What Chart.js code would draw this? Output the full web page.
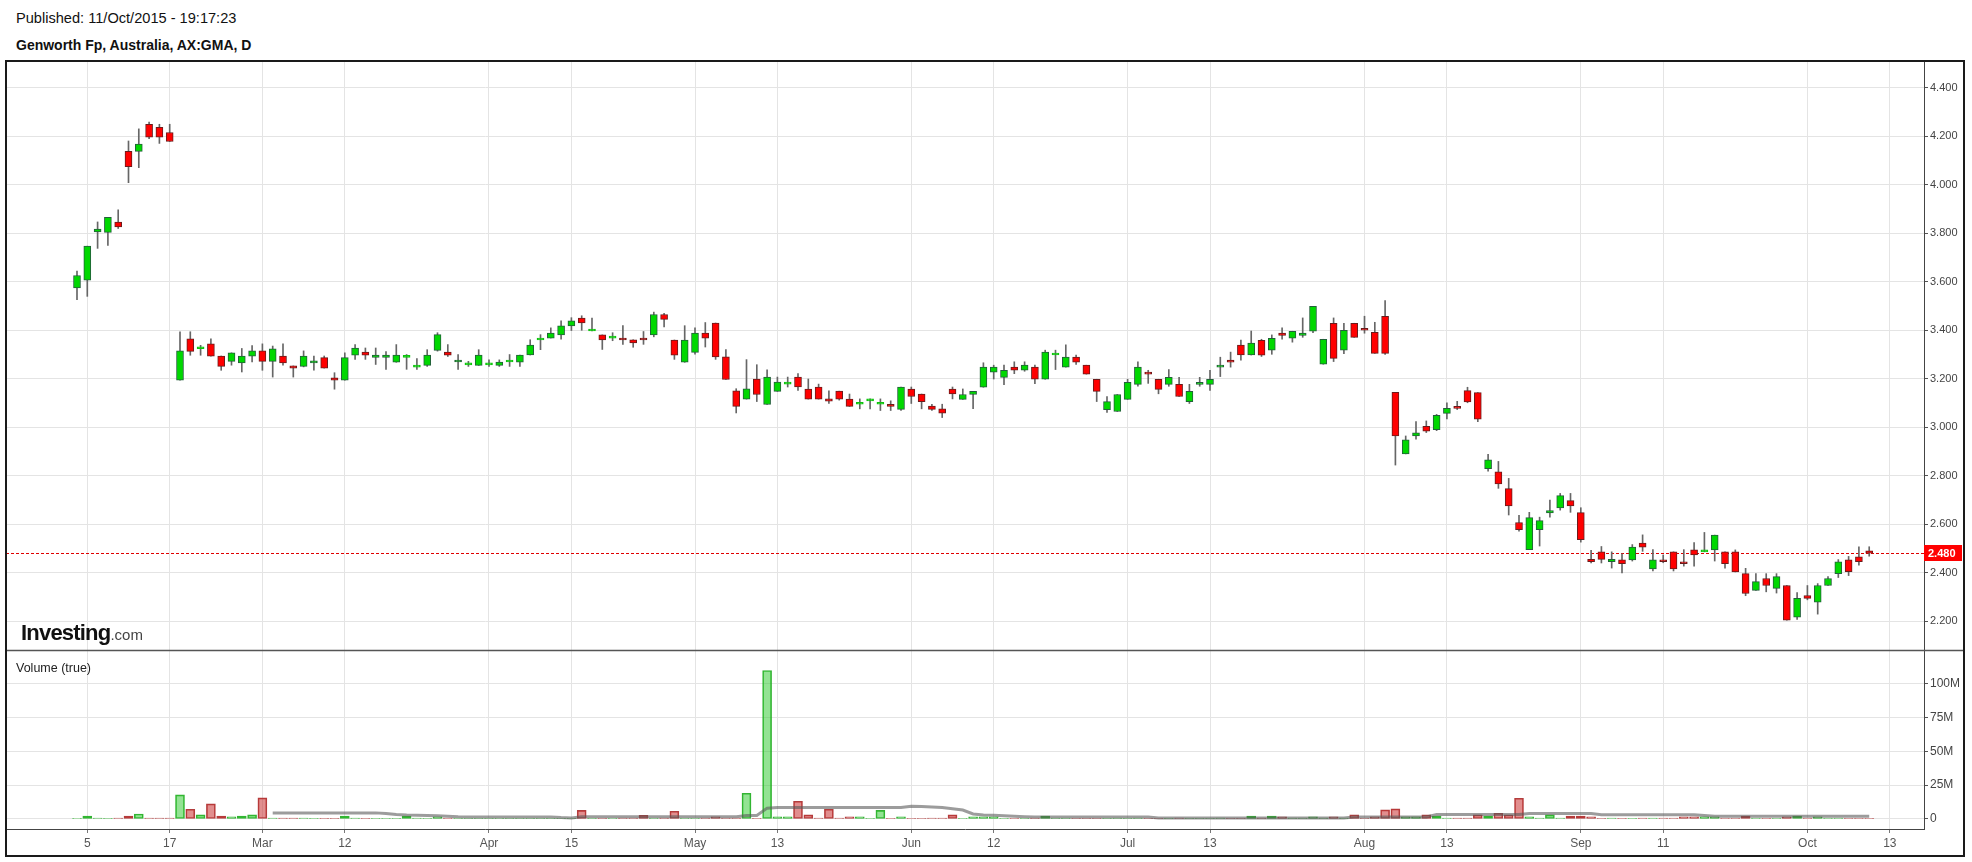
<!DOCTYPE html>
<html>
<head>
<meta charset="utf-8">
<script src="https://cdn.jsdelivr.net/npm/chart.js@4.4.1/dist/chart.umd.min.js"></script>
<style>
  body { margin: 0; background: #fff; width: 1972px; height: 862px; overflow: hidden; position: relative; font-family: "Liberation Sans", Arial, sans-serif; }
  #pub { position: absolute; left: 16px; top: 10px; font-size: 14.6px; color: #111; }
  #name { position: absolute; left: 16px; top: 37px; font-size: 14px; font-weight: bold; color: #111; }
  #frame { position: absolute; left: 5px; top: 60px; width: 1960px; height: 797px; border: 2px solid #1a1a1a; box-sizing: border-box; pointer-events: none; z-index: 3; }
  #c { position: absolute; left: 6px; top: 61px; }
  #logo { position: absolute; left: 21px; top: 620px; font-size: 22px; font-weight: bold; color: #111; letter-spacing: -0.8px; z-index: 2; }
  #logo span { font-size: 15px; font-weight: normal; color: #444; letter-spacing: 0; }
  #vol { position: absolute; left: 16px; top: 661px; font-size: 12.5px; color: #222; z-index: 2; }
</style>
</head>
<body>
<div id="pub">Published: 11/Oct/2015 - 19:17:23</div>
<div id="name">Genworth Fp, Australia, AX:GMA, D</div>
<canvas id="c" width="1958" height="795"></canvas>
<div id="frame"></div>
<div id="logo">Investing<span>.com</span></div>
<div id="vol">Volume (true)</div>
<script>
// trading days: weekdays from 4 Feb to 13 Oct 2015, ASX holidays skipped
var holidays = ['2015-04-03', '2015-04-06', '2015-06-08'];
var tickDates = ['2015-02-05', '2015-02-17', '2015-03-02', '2015-03-12', '2015-04-01', '2015-04-15', '2015-05-01', '2015-05-13',
  '2015-06-01', '2015-06-12', '2015-07-01', '2015-07-13', '2015-08-03', '2015-08-13', '2015-09-01', '2015-09-11', '2015-10-01', '2015-10-13'];
var tickText = ['5', '17', 'Mar', '12', 'Apr', '15', 'May', '13', 'Jun', '12', 'Jul', '13', 'Aug', '13', 'Sep', '11', 'Oct', '13'];
var priceTicks = [2.2, 2.4, 2.6, 2.8, 3.0, 3.2, 3.4, 3.6, 3.8, 4.0, 4.2, 4.4];
var volTicks = [0, 25, 50, 75, 100];

var opens = [3.575, 3.607, 3.806, 3.804, 3.846, 4.138, 4.138, 4.250, 4.237, 4.216,
  3.194, 3.365, 3.324, 3.344, 3.294, 3.272, 3.265, 3.293, 3.315, 3.272,
  3.294, 3.253, 3.251, 3.265, 3.287, 3.204, 3.194, 3.297, 3.310, 3.288,
  3.288, 3.268, 3.288, 3.248, 3.255, 3.317, 3.310, 3.269, 3.257, 3.255,
  3.257, 3.255, 3.269, 3.268, 3.298, 3.360, 3.368, 3.381, 3.418, 3.450,
  3.397, 3.381, 3.368, 3.368, 3.361, 3.368, 3.381, 3.465, 3.360, 3.268,
  3.309, 3.389, 3.430, 3.290, 3.150, 3.116, 3.199, 3.094, 3.148, 3.178,
  3.207, 3.157, 3.166, 3.117, 3.149, 3.116, 3.095, 3.109, 3.095, 3.095,
  3.074, 3.157, 3.137, 3.087, 3.076, 3.157, 3.115, 3.135, 3.165, 3.227,
  3.206, 3.248, 3.235, 3.248, 3.198, 3.298, 3.248, 3.289, 3.256, 3.198,
  3.073, 3.065, 3.115, 3.177, 3.227, 3.198, 3.177, 3.177, 3.106, 3.177,
  3.177, 3.248, 3.277, 3.339, 3.298, 3.359, 3.318, 3.388, 3.367, 3.379,
  3.396, 3.260, 3.429, 3.318, 3.429, 3.408, 3.392, 3.458, 3.144, 2.890,
  2.964, 3.004, 2.990, 3.057, 3.086, 3.151, 3.143, 2.829, 2.816, 2.747,
  2.607, 2.495, 2.577, 2.647, 2.667, 2.697, 2.648, 2.455, 2.486, 2.445,
  2.453, 2.453, 2.522, 2.416, 2.453, 2.486, 2.445, 2.494, 2.486, 2.494,
  2.486, 2.486, 2.396, 2.327, 2.376, 2.335, 2.347, 2.216, 2.306, 2.278,
  2.347, 2.396, 2.453, 2.465, 2.490];
var highs = [3.644, 3.747, 3.847, 3.866, 3.897, 4.181, 4.231, 4.259, 4.250, 4.250,
  3.394, 3.394, 3.338, 3.365, 3.294, 3.307, 3.325, 3.337, 3.344, 3.335,
  3.344, 3.253, 3.315, 3.294, 3.294, 3.225, 3.307, 3.341, 3.327, 3.327,
  3.312, 3.341, 3.300, 3.283, 3.320, 3.390, 3.341, 3.300, 3.272, 3.320,
  3.278, 3.278, 3.300, 3.298, 3.361, 3.382, 3.410, 3.439, 3.452, 3.460,
  3.450, 3.381, 3.390, 3.419, 3.361, 3.395, 3.475, 3.470, 3.360, 3.419,
  3.410, 3.432, 3.430, 3.320, 3.159, 3.279, 3.258, 3.237, 3.207, 3.207,
  3.221, 3.199, 3.178, 3.150, 3.149, 3.137, 3.117, 3.117, 3.117, 3.109,
  3.166, 3.166, 3.137, 3.095, 3.095, 3.166, 3.158, 3.148, 3.266, 3.256,
  3.256, 3.270, 3.270, 3.256, 3.318, 3.318, 3.340, 3.298, 3.256, 3.198,
  3.127, 3.135, 3.198, 3.270, 3.235, 3.198, 3.238, 3.206, 3.177, 3.206,
  3.235, 3.289, 3.310, 3.360, 3.397, 3.363, 3.381, 3.410, 3.396, 3.451,
  3.499, 3.363, 3.451, 3.429, 3.429, 3.458, 3.433, 3.523, 3.144, 2.964,
  3.023, 3.026, 3.053, 3.101, 3.107, 3.165, 3.143, 2.888, 2.859, 2.789,
  2.637, 2.649, 2.629, 2.699, 2.727, 2.727, 2.668, 2.492, 2.508, 2.486,
  2.478, 2.516, 2.556, 2.495, 2.473, 2.486, 2.495, 2.524, 2.566, 2.555,
  2.486, 2.494, 2.418, 2.396, 2.396, 2.396, 2.347, 2.318, 2.347, 2.355,
  2.384, 2.454, 2.467, 2.507, 2.507];
var lows = [3.526, 3.540, 3.738, 3.750, 3.820, 4.009, 4.071, 4.191, 4.171, 4.179,
  3.194, 3.297, 3.297, 3.293, 3.235, 3.256, 3.228, 3.269, 3.235, 3.207,
  3.256, 3.207, 3.249, 3.235, 3.244, 3.157, 3.194, 3.280, 3.280, 3.259,
  3.239, 3.268, 3.239, 3.239, 3.251, 3.314, 3.292, 3.239, 3.251, 3.255,
  3.251, 3.251, 3.251, 3.251, 3.298, 3.320, 3.368, 3.363, 3.399, 3.400,
  3.397, 3.321, 3.357, 3.342, 3.330, 3.342, 3.373, 3.414, 3.280, 3.268,
  3.301, 3.331, 3.280, 3.197, 3.059, 3.116, 3.106, 3.094, 3.148, 3.166,
  3.152, 3.116, 3.116, 3.098, 3.112, 3.086, 3.076, 3.076, 3.069, 3.069,
  3.069, 3.098, 3.076, 3.069, 3.040, 3.117, 3.115, 3.077, 3.165, 3.199,
  3.176, 3.221, 3.231, 3.180, 3.198, 3.238, 3.248, 3.259, 3.219, 3.106,
  3.061, 3.065, 3.115, 3.169, 3.181, 3.138, 3.169, 3.127, 3.098, 3.169,
  3.152, 3.209, 3.248, 3.277, 3.298, 3.292, 3.301, 3.363, 3.351, 3.371,
  3.390, 3.260, 3.271, 3.304, 3.371, 3.388, 3.305, 3.300, 2.844, 2.890,
  2.951, 2.978, 2.986, 3.034, 3.073, 3.101, 3.023, 2.819, 2.748, 2.638,
  2.571, 2.495, 2.510, 2.629, 2.658, 2.649, 2.526, 2.440, 2.440, 2.419,
  2.399, 2.448, 2.488, 2.407, 2.441, 2.407, 2.427, 2.427, 2.486, 2.448,
  2.419, 2.403, 2.305, 2.327, 2.321, 2.316, 2.204, 2.207, 2.288, 2.229,
  2.347, 2.380, 2.388, 2.431, 2.468];
var closes = [3.626, 3.747, 3.818, 3.866, 3.826, 4.075, 4.168, 4.197, 4.197, 4.179,
  3.315, 3.313, 3.324, 3.293, 3.251, 3.307, 3.294, 3.315, 3.272, 3.324,
  3.265, 3.244, 3.294, 3.274, 3.244, 3.194, 3.287, 3.327, 3.297, 3.298,
  3.298, 3.298, 3.288, 3.248, 3.298, 3.382, 3.297, 3.277, 3.257, 3.298,
  3.257, 3.269, 3.269, 3.298, 3.339, 3.360, 3.389, 3.418, 3.439, 3.430,
  3.397, 3.360, 3.368, 3.360, 3.348, 3.360, 3.465, 3.445, 3.297, 3.360,
  3.389, 3.368, 3.290, 3.197, 3.086, 3.159, 3.135, 3.207, 3.186, 3.178,
  3.166, 3.116, 3.116, 3.108, 3.116, 3.086, 3.095, 3.109, 3.095, 3.086,
  3.166, 3.127, 3.106, 3.074, 3.058, 3.137, 3.135, 3.148, 3.248, 3.248,
  3.235, 3.235, 3.256, 3.198, 3.310, 3.298, 3.289, 3.268, 3.219, 3.148,
  3.106, 3.135, 3.185, 3.248, 3.219, 3.156, 3.206, 3.127, 3.148, 3.185,
  3.198, 3.256, 3.268, 3.298, 3.347, 3.297, 3.367, 3.379, 3.396, 3.388,
  3.499, 3.363, 3.284, 3.400, 3.371, 3.400, 3.305, 3.305, 2.964, 2.948,
  2.977, 2.984, 3.049, 3.078, 3.078, 3.105, 3.033, 2.866, 2.766, 2.675,
  2.577, 2.627, 2.615, 2.656, 2.718, 2.675, 2.536, 2.445, 2.455, 2.455,
  2.437, 2.506, 2.505, 2.453, 2.445, 2.416, 2.437, 2.473, 2.486, 2.555,
  2.437, 2.403, 2.314, 2.363, 2.347, 2.384, 2.204, 2.294, 2.294, 2.347,
  2.376, 2.445, 2.404, 2.445, 2.480];
// volume in millions of shares
var volumes = [0.5, 2.2, 0.7, 0.3, 0.7, 2.2, 3.7, 0.7, 0.7, 0.7,
  17.8, 7.2, 3.0, 11.1, 2.2, 1.5, 2.2, 3.0, 15.6, 0.7,
  0.7, 0.7, 0.7, 0.3, 0.3, 0.3, 2.2, 0.7, 0.3, 0.3,
  0.3, 0.3, 2.2, 0.7, 0.3, 1.5, 0.7, 0.3, 0.3, 0.3,
  0.3, 0.2, 0.3, 0.3, 0.3, 0.3, 0.3, 0.2, 0.3, 6.4,
  0.3, 0.3, 0.2, 0.7, 0.7, 2.7, 0.3, 0.7, 5.7, 0.3,
  0.3, 0.7, 1.5, 0.7, 0.7, 19.0, 0.3, 109.6, 1.5, 1.5,
  13.1, 3.0, 0.7, 7.2, 0.7, 1.5, 1.5, 0.3, 6.4, 0.3,
  1.5, 0.3, 0.3, 0.7, 0.7, 3.0, 0.3, 1.5, 1.5, 1.5,
  0.3, 0.3, 0.3, 0.7, 2.2, 0.7, 0.7, 0.3, 0.3, 0.3,
  0.3, 0.7, 0.3, 0.7, 0.3, 0.3, 0.3, 0.7, 0.3, 0.3,
  0.3, 0.7, 0.3, 0.3, 2.2, 0.7, 2.2, 1.5, 0.7, 0.7,
  1.5, 0.7, 1.5, 0.7, 3.0, 0.3, 1.5, 6.7, 7.4, 1.5,
  1.5, 3.0, 2.2, 0.7, 0.7, 0.7, 3.0, 2.2, 4.2, 3.0,
  15.3, 1.5, 0.7, 3.0, 0.7, 2.2, 2.2, 1.5, 0.3, 0.7,
  0.3, 0.3, 0.7, 0.7, 0.7, 0.7, 1.5, 1.5, 1.5, 1.5,
  0.7, 0.7, 2.2, 0.7, 0.3, 0.3, 1.5, 2.2, 0.7, 1.5,
  0.7, 0.7, 0.3, 0.3, 0.3];
// moving-average line of the volume panel, starts at day 19
var volumeAvgStart = 19;
var volumeAvg = [4.5, 4.5, 4.5, 4.5, 4.5, 4.5, 4.5, 4.5, 4.5, 4.5, 4.5,
  4.0, 3.3, 2.9, 2.7, 2.6, 2.3, 2.0, 1.6,
  1.5, 1.5, 1.5, 1.5, 1.5, 1.5, 1.5, 1.5, 1.5,
  1.0, 0.8,
  1.6, 1.6, 1.6, 1.6, 1.6, 1.6, 1.6, 1.6, 1.6, 1.6, 1.6, 1.6, 1.6, 1.6, 1.6,
  1.7, 2.6, 2.6, 8.0,
  8.4, 8.4, 8.4, 8.4, 8.4, 8.4, 8.4, 8.4, 8.4, 8.4, 8.4, 8.4, 8.4,
  9.4, 9.2, 8.8, 8.4, 7.5, 6.6, 3.7, 3.0, 2.8, 2.4, 2.0, 1.7,
  1.5, 1.5, 1.5, 1.5, 1.5, 1.5, 1.5, 1.5, 1.5, 1.5, 1.5, 1.5,
  0.8, 0.8, 0.8, 0.8, 0.8, 0.8, 0.8, 0.8, 0.8, 0.8, 0.8, 0.8, 0.8, 0.8, 0.8, 0.8, 0.8, 0.8, 0.8,
  1.5, 1.5, 1.5, 1.5, 1.5, 1.5, 1.5, 1.5,
  3.3, 3.3, 3.3, 3.3, 3.3, 3.3, 3.3, 3.3, 3.3,
  4.0, 4.0, 4.0, 4.0, 4.0, 4.0, 4.0,
  3.2, 3.2, 3.2, 3.2, 3.2, 3.2, 3.2, 3.2, 3.2, 3.2,
  2.6,
  2.0, 2.0, 2.0, 2.0, 2.0, 2.0, 2.0, 2.0, 2.0, 2.0, 2.0, 2.0, 2.0, 2.0, 2.0, 2.0];

function isoDate(d) { return d.toISOString().slice(0, 10); }
var days = [];
for (var d = new Date(Date.UTC(2015, 1, 4)); d <= new Date(Date.UTC(2015, 9, 13)); d.setUTCDate(d.getUTCDate() + 1)) {
  var wd = d.getUTCDay();
  if (wd === 0 || wd === 6 || holidays.indexOf(isoDate(d)) >= 0) continue;
  days.push(isoDate(d));
}
var tickIdx = tickDates.map(function(t) { return days.indexOf(t); });

var upFill = '#00d800', upLine = '#22603a', dnFill = '#ff0000', dnLine = '#6a1c1c';
var wicks = [], bodies = [], bodyFill = [], bodyLine = [], vols = [], volFill = [], volLine = [], avg = [];
for (var i = 0; i < closes.length; i++) {
  var up = closes[i] >= opens[i];
  wicks.push({x: i, y: [lows[i], highs[i]]});
  bodies.push({x: i, y: [opens[i], closes[i]]});
  bodyFill.push(up ? upFill : dnFill);
  bodyLine.push(closes[i] === opens[i] ? '#10c010' : (up ? upLine : dnLine));
  vols.push({x: i, y: volumes[i] * 1e6});
  volFill.push(up ? 'rgba(40,200,40,0.5)' : 'rgba(200,50,50,0.55)');
  volLine.push(up ? 'rgba(30,170,30,0.9)' : 'rgba(170,40,40,0.9)');
}
for (var j = 0; j < volumeAvg.length; j++) avg.push({x: volumeAvgStart + j, y: volumeAvg[j] * 1e6});

var lastClose = closes[closes.length - 1];
var narrow = '"Liberation Sans Narrow", "Arial Narrow", "Liberation Sans", sans-serif';

// keep the stacked panels flush with the frame
function noPad(s) { s.paddingTop = 0; s.paddingBottom = 0; s.paddingLeft = 0; s.paddingRight = 0; }

var decor = {
  id: 'decor',
  beforeDatasetsDraw: function(chart) {
    var c = chart.ctx, a = chart.chartArea, y = chart.scales.y.getPixelForValue(lastClose);
    c.save();
    c.strokeStyle = '#e00000';
    c.lineWidth = 1;
    c.setLineDash([3, 2]);
    c.beginPath();
    c.moveTo(a.left, Math.round(y) + 0.5);
    c.lineTo(a.right, Math.round(y) + 0.5);
    c.stroke();
    c.restore();
  },
  afterDraw: function(chart) {
    var c = chart.ctx, a = chart.chartArea, ys = chart.scales.y;
    var sep = Math.round(ys.bottom) + 0.5;
    c.save();
    c.strokeStyle = '#555';
    c.lineWidth = 1.5;
    c.beginPath();
    c.moveTo(0, sep);
    c.lineTo(chart.width, sep);
    c.stroke();
    var y = Math.round(ys.getPixelForValue(lastClose));
    c.fillStyle = '#ff0000';
    c.fillRect(a.right, y - 8, 38, 16);
    c.fillStyle = '#fff';
    c.font = 'bold 11px "Liberation Sans", Arial, sans-serif';
    c.textBaseline = 'middle';
    c.fillText(lastClose.toFixed(3), a.right + 4, y + 0.5);
    c.restore();
  }
};

new Chart(document.getElementById('c'), {
  type: 'bar',
  data: {
    datasets: [{
      data: bodies,
      backgroundColor: bodyFill,
      borderColor: bodyLine,
      borderWidth: 1,
      borderSkipped: false,
      barThickness: 7,
      minBarLength: 2,
      grouped: false,
      yAxisID: 'y'
    }, {
      data: wicks,
      backgroundColor: '#666',
      borderWidth: 0,
      barThickness: 1,
      grouped: false,
      yAxisID: 'y'
    }, {
      type: 'line',
      data: avg,
      borderColor: 'rgba(90,90,90,0.6)',
      borderWidth: 3,
      pointRadius: 0,
      tension: 0,
      yAxisID: 'yv'
    }, {
      data: vols,
      backgroundColor: volFill,
      borderColor: volLine,
      borderWidth: 1,
      borderSkipped: false,
      barThickness: 9,
      grouped: false,
      yAxisID: 'yv'
    }]
  },
  options: {
    responsive: false,
    animation: false,
    devicePixelRatio: 1,
    layout: { padding: 0, autoPadding: false },
    plugins: { legend: { display: false }, tooltip: { enabled: false } },
    scales: {
      x: {
        type: 'linear',
        min: -6.893,
        max: 179.32,
        offset: false,
        afterBuildTicks: function(s) { s.ticks = tickIdx.map(function(v) { return {value: v}; }); },
        afterFit: function(s) { s.height = 27; noPad(s); },
        ticks: {
          autoSkip: false, maxRotation: 0, padding: 3, color: '#555',
          font: { family: narrow, size: 12 },
          callback: function(v, k) { return tickText[k]; }
        },
        grid: { offset: false, color: '#e4e4e4', tickLength: 4, tickColor: '#777' },
        border: { color: '#444' }
      },
      y: {
        position: 'right',
        stack: 'panels',
        stackWeight: 589,
        min: 2.081,
        max: 4.511,
        afterBuildTicks: function(s) { s.ticks = priceTicks.map(function(v) { return {value: v}; }); },
        afterFit: function(s) { s.width = 40; noPad(s); },
        ticks: {
          padding: 2, color: '#444',
          font: { family: '"Liberation Sans", Arial, sans-serif', size: 11 },
          callback: function(v) { return v.toFixed(3); }
        },
        grid: { color: '#e4e4e4', tickLength: 4, tickColor: '#555' },
        border: { color: '#444' }
      },
      yv: {
        position: 'right',
        stack: 'panels',
        stackWeight: 179,
        min: -7.4e6,
        max: 124.7e6,
        afterBuildTicks: function(s) { s.ticks = volTicks.map(function(v) { return {value: v * 1e6}; }); },
        afterFit: function(s) { s.width = 40; noPad(s); },
        ticks: {
          padding: 2, color: '#444',
          font: { family: narrow, size: 12 },
          callback: function(v) { return v === 0 ? '0' : (v / 1e6) + 'M'; }
        },
        grid: { color: '#e4e4e4', tickLength: 4, tickColor: '#555' },
        border: { color: '#444' }
      }
    }
  },
  plugins: [decor]
});
</script>
</body>
</html>
